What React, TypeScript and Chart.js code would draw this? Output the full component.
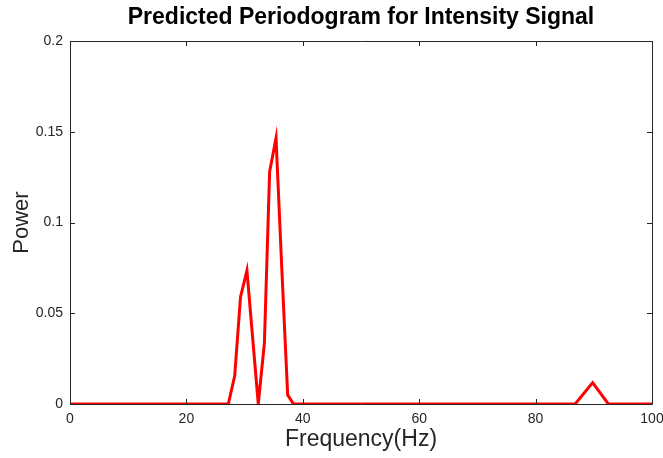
import React, { useEffect, useRef } from "react";
import { Chart, registerables } from "chart.js";

Chart.register(...registerables);

const TITLE = "Predicted Periodogram for Intensity Signal";
const X_LABEL = "Frequency(Hz)";
const Y_LABEL = "Power";
const frequencies = [0, 27.2, 28.3, 29.3, 30.4, 32.35, 33.4, 34.3, 35.4, 36.4, 37.4, 38.4, 86.8, 89.8, 91.0, 92.5, 100];
const powers = [0, 0, 0.0155, 0.059, 0.0735, 0, 0.0335, 0.128, 0.1465, 0.074, 0.005, 0, 0, 0.0118, 0.0066, 0, 0];
const xTicks = [0, 20, 40, 60, 80, 100];
const yTicks = [0, 0.05, 0.1, 0.15, 0.2];

const W = 663;
const H = 458;
const AXIS_COLOR = "#262626";
const FONT = "'Liberation Sans', Arial, Helvetica, sans-serif";

const framePlugin = {
  id: "matlabFrame",
  afterDatasetsDraw(chart: any) {
    const { ctx, chartArea } = chart;
    const { left, right, top, bottom } = chartArea;
    const xs = chart.scales.x;
    const ys = chart.scales.y;
    ctx.save();
    ctx.strokeStyle = AXIS_COLOR;
    ctx.lineWidth = 1;
    ctx.beginPath();
    ctx.rect(Math.round(left) + 0.5, Math.round(top) + 0.5, Math.round(right - left), Math.round(bottom - top));
    ctx.stroke();
    const tl = 5;
    ctx.beginPath();
    xTicks.forEach((v) => {
      const px = Math.round(xs.getPixelForValue(v)) + 0.5;
      ctx.moveTo(px, bottom);
      ctx.lineTo(px, bottom - tl);
      ctx.moveTo(px, top);
      ctx.lineTo(px, top + tl);
    });
    yTicks.forEach((v) => {
      const py = Math.round(ys.getPixelForValue(v)) + 0.5;
      ctx.moveTo(left, py);
      ctx.lineTo(left + tl, py);
      ctx.moveTo(right, py);
      ctx.lineTo(right - tl, py);
    });
    ctx.stroke();
    ctx.restore();
  },
  afterDraw(chart: any) {
    const { ctx, chartArea } = chart;
    const cx = (chartArea.left + chartArea.right) / 2;
    const cy = (chartArea.top + chartArea.bottom) / 2;
    ctx.save();
    ctx.fillStyle = "#000";
    ctx.textAlign = "center";
    ctx.textBaseline = "middle";
    ctx.font = `bold 23px ${FONT}`;
    ctx.fillText(TITLE, cx, 18);
    ctx.fillStyle = AXIS_COLOR;
    ctx.font = `23px ${FONT}`;
    ctx.fillText(X_LABEL, cx, 440);
    ctx.font = `22px ${FONT}`;
    ctx.translate(22, cy);
    ctx.rotate(-Math.PI / 2);
    ctx.fillText(Y_LABEL, 0, 0);
    ctx.restore();
  },
};

export default function App() {
  const ref = useRef<HTMLCanvasElement | null>(null);
  useEffect(() => {
    document.body.style.margin = "0";
    const canvas = ref.current;
    if (!canvas) return;
    const chart = new Chart(canvas, {
      type: "line",
      data: {
        datasets: [
          {
            data: frequencies.map((f, i) => ({ x: f, y: powers[i] })),
            borderColor: "#ff0000",
            borderWidth: 3,
            pointRadius: 0,
            tension: 0,
            fill: false,
          },
        ],
      },
      options: {
        responsive: false,
        animation: false,
        devicePixelRatio: 1,
        layout: { padding: { left: 0, right: 11, top: 41, bottom: 0 } },
        plugins: {
          legend: { display: false },
          title: { display: false },
          tooltip: { enabled: false },
        },
        scales: {
          x: {
            type: "linear",
            min: 0,
            max: 100,
            grid: { display: false, drawTicks: false },
            border: { display: false },
            afterBuildTicks: (s: any) => {
              s.ticks = xTicks.map((v) => ({ value: v }));
            },
            afterFit: (s: any) => {
              s.height = 54;
              s.paddingLeft = 0;
              s.paddingRight = 0;
            },
            ticks: {
              color: AXIS_COLOR,
              font: { family: FONT, size: 14 },
              padding: 7,
              maxRotation: 0,
              callback: (v: any) => String(v),
            },
          },
          y: {
            type: "linear",
            min: 0,
            max: 0.2,
            grid: { display: false, drawTicks: false },
            border: { display: false },
            afterBuildTicks: (s: any) => {
              s.ticks = yTicks.map((v) => ({ value: v }));
            },
            afterFit: (s: any) => {
              s.width = 70;
              s.paddingTop = 0;
              s.paddingBottom = 0;
            },
            ticks: {
              color: AXIS_COLOR,
              font: { family: FONT, size: 14 },
              padding: 7,
              callback: (v: any) => String(Math.round(v * 100) / 100),
            },
          },
        },
      },
      plugins: [framePlugin],
    });
    return () => chart.destroy();
  }, []);
  return <canvas ref={ref} width={W} height={H} style={{ display: "block" }} />;
}
